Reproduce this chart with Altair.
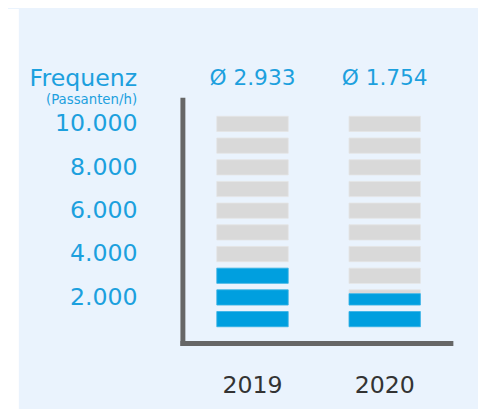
import altair as alt
import pandas as pd

years = ["2019", "2020"]
averages = ["Ø 2.933", "Ø 1.754"]
filled_blocks = [3.0, 1.75]      # blue-filled blocks (1 block = 1.000 passers/h)
n_blocks = 10
tick_labels = ["2.000", "4.000", "6.000", "8.000", "10.000"]

BLUE = "#009fdf"
TEXT_BLUE = "#1ca0de"
GRAY = "#d9d9d9"
PANEL = "#eaf3fd"
AXIS = "#666666"
FONT = "DejaVu Sans"

PAD = 150
rows = []
for yr, f in zip(years, filled_blocks):
    for k in range(1, n_blocks + 1):
        lo = (k - 1) * 1000 + PAD
        hi = k * 1000 - PAD
        rows.append({"year": yr, "kind": "gray", "y": lo, "y2": hi})
        frac = max(0.0, min(1.0, f - (k - 1)))
        if frac > 0:
            rows.append({"year": yr, "kind": "blue", "y": lo, "y2": lo + frac * (hi - lo)})
blocks = pd.DataFrame(rows)
avg_df = pd.DataFrame({"year": years, "label": averages})

tick_values = [i * 1000 - 500 for i in range(2, 11, 2)]
label_map = {v: t for v, t in zip(tick_values, tick_labels)}
label_expr = " : ".join(
    [f"datum.value == {v} ? '{t}'" for v, t in label_map.items()] + ["''"]
)

xscale = alt.Scale(domain=years, paddingInner=0.46, paddingOuter=0.2437, align=0.534)
yscale = alt.Scale(domain=[-600, 10620])

x_enc = alt.X("year:N", scale=xscale, sort=years,
              axis=alt.Axis(title=None, labelAngle=0, labelFontSize=24, labelColor="#333333",
                            labelFont=FONT, labelPadding=31, ticks=False,
                            domainColor=AXIS, domainWidth=5, domainCap="square"))
y_enc = alt.Y("y:Q", scale=yscale,
              axis=alt.Axis(title=None, values=tick_values, labelExpr=label_expr,
                            labelFontSize=24, labelColor=TEXT_BLUE, labelFont=FONT,
                            labelPadding=46, ticks=False, grid=False,
                            domainColor=AXIS, domainWidth=5, domainCap="square"))

gray = alt.Chart(blocks).transform_filter(alt.datum.kind == "gray").mark_rect(
    color=GRAY, stroke="#e4e4e4", strokeWidth=0.8
).encode(x=x_enc, y=y_enc, y2="y2:Q")

blue = alt.Chart(blocks).transform_filter(alt.datum.kind == "blue").mark_rect(
    color=BLUE, stroke="#33b4ea", strokeWidth=0.8
).encode(x=alt.X("year:N", scale=xscale, sort=years), y=alt.Y("y:Q", scale=yscale), y2="y2:Q")

avg_text = alt.Chart(avg_df).mark_text(
    fontSize=22, font=FONT, color=TEXT_BLUE, baseline="middle"
).encode(x=alt.X("year:N", scale=xscale, sort=years), y=alt.value(-22), text="label:N")

title_df = pd.DataFrame({"t": ["Frequenz"]})
sub_df = pd.DataFrame({"t": ["(Passanten/h)"]})
title_text = alt.Chart(title_df).mark_text(
    fontSize=24, font=FONT, color=TEXT_BLUE, align="right", baseline="alphabetic"
).encode(x=alt.value(-46), y=alt.value(-14), text="t:N")
sub_text = alt.Chart(sub_df).mark_text(
    fontSize=13.5, font=FONT, color=TEXT_BLUE, align="right", baseline="middle"
).encode(x=alt.value(-46), y=alt.value(0), text="t:N")

white_df = pd.DataFrame({"a": [0]})
white_strip = alt.Chart(white_df).mark_rect(color="#ffffff").encode(
    x=alt.value(-178), x2=alt.value(-166), y=alt.value(-92), y2=alt.value(320)
)

chart = alt.layer(white_strip, gray, blue, avg_text, title_text, sub_text).properties(
    width=272, height=247,
    autosize=alt.AutoSizeParams(type="none"),
    padding={"left": 177, "top": 90, "right": 28, "bottom": 64},
    background=PANEL,
).configure_view(stroke=None)

chart.save("out.html", embed_options={"renderer": "svg", "actions": False})
